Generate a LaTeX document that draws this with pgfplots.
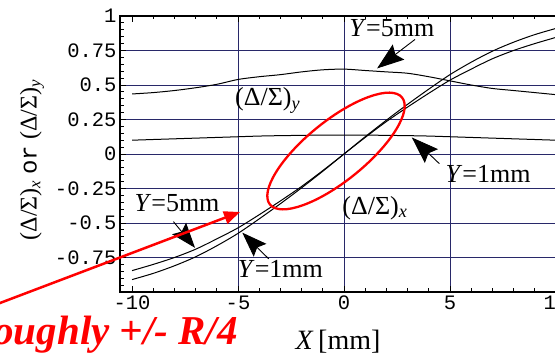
\documentclass[border=0pt]{standalone}
\usepackage{fontspec}
\setmainfont{Liberation Serif}
\newfontfamily\cour{Liberation Mono}
\usepackage{pgfplots}
\usepackage{pgfplotstable}
\pgfplotsset{compat=1.18}
\usetikzlibrary{arrows.meta}
\definecolor{gridnavy}{RGB}{40,40,105}

\pgfplotstableread{
x    ax1    ax5    ay5    ay1
-10  -0.910 -0.845 0.435  0.100
-9   -0.865 -0.800 0.445  0.105
-8   -0.810 -0.750 0.460  0.110
-7   -0.745 -0.690 0.480  0.115
-6   -0.665 -0.615 0.505  0.120
-5   -0.575 -0.535 0.540  0.125
-4   -0.470 -0.440 0.560  0.130
-3   -0.360 -0.340 0.575  0.133
-2   -0.245 -0.235 0.595  0.135
-1   -0.125 -0.120 0.610  0.137
0     0.000  0.000 0.615  0.137
1     0.125  0.120 0.605  0.137
2     0.245  0.235 0.595  0.135
3     0.360  0.340 0.585  0.133
4     0.470  0.440 0.560  0.130
5     0.575  0.535 0.530  0.125
6     0.665  0.615 0.500  0.120
7     0.745  0.690 0.475  0.115
8     0.810  0.750 0.460  0.110
9     0.865  0.800 0.445  0.105
10    0.910  0.845 0.430  0.100
}\datatab

\begin{document}
\begin{tikzpicture}[x=1pt,y=1pt]
\useasboundingbox (0,0) rectangle (555,353);
\clip (0,0) rectangle (555,353);
\begin{axis}[
  at={(120pt,61pt)}, anchor=south west, scale only axis,
  width=448pt, height=276pt,
  xmin=-10.57, xmax=10.57, ymin=-1, ymax=1,
  axis line style={black, line width=1.1pt},
  xtick={-5,0,5}, xticklabels={-5,0,5},
  extra x ticks={-10,10}, extra x tick labels={-10,10},
  ytick={-0.75,-0.5,-0.25,0,0.25,0.5,0.75},
  yticklabels={-0.75,-0.5,-0.25,0,0.25,0.5,0.75},
  extra y ticks={1}, extra y tick labels={1},
  extra tick style={grid=none},
  minor xtick={-10,-9,...,10},
  minor ytick={-1,-0.95,...,1},
  grid=major, major grid style={gridnavy, line width=0.9pt},
  tick pos=both, tick align=inside,
  major tick length=6pt, minor tick length=3.5pt,
  every tick/.style={black, line width=0.8pt},
  tick label style={font=\cour\fontsize{20.5}{20.5}\selectfont},
  clip=true,
]
\addplot[black, line width=1pt, smooth] table[x=x,y=ax1]{\datatab};
\addplot[black, line width=1pt, smooth] table[x=x,y=ax5]{\datatab};
\addplot[black, line width=1pt, smooth] table[x=x,y=ay5]{\datatab};
\addplot[black, line width=1pt, smooth] table[x=x,y=ay1]{\datatab};

\node[font=\fontsize{26}{26}\selectfont] at (axis cs:2.26,0.915) {\textit{Y}=5mm};
\node[font=\fontsize{26}{26}\selectfont] at (axis cs:-3.6,0.39) {(Δ/Σ)\textsubscript{\textit{y}}};
\node[font=\fontsize{26}{26}\selectfont] at (axis cs:6.8,-0.145) {\textit{Y}=1mm};
\node[font=\fontsize{26}{26}\selectfont] at (axis cs:1.46,-0.39) {(Δ/Σ)\textsubscript{\textit{x}}};
\node[font=\fontsize{26}{26}\selectfont] at (axis cs:-7.88,-0.355) {\textit{Y}=5mm};
\node[font=\fontsize{26}{26}\selectfont] at (axis cs:-3.0,-0.83) {\textit{Y}=1mm};

\draw[black, line width=0.9pt, -{Stealth[length=27pt,width=19pt,inset=4pt]}] (axis cs:3.35,0.83) -- (axis cs:1.56,0.62);
\draw[black, line width=0.9pt, -{Stealth[length=27pt,width=19pt,inset=4pt]}] (axis cs:4.5,-0.07) -- (axis cs:3.2,0.12);
\draw[black, line width=0.9pt, -{Stealth[length=25pt,width=18pt,inset=4pt]}] (axis cs:-8.05,-0.49) -- (axis cs:-7.03,-0.68);
\draw[black, line width=0.9pt, -{Stealth[length=25pt,width=18pt,inset=4pt]}] (axis cs:-3.55,-0.76) -- (axis cs:-4.8,-0.57);
\end{axis}

% axis labels
\node[rotate=90, font=\fontsize{24}{24}\selectfont] at (32,193)
  {(Δ/Σ)\textsubscript{\textit{x}}\ {\cour or}\ (Δ/Σ)\textsubscript{\textit{y}}};
\node[anchor=base, font=\fontsize{28}{28}\selectfont] at (338,3) {\textit{X}\,[mm]};

% red annotations
\draw[red, line width=2.3pt, rotate around={39:(336,202)}] (336,202) ellipse (85 and 30);
\draw[red, line width=2.5pt, -{Triangle[length=16pt,width=13pt]}] (-20,42.4) -- (240,141);
\node[anchor=base east, red, font=\bfseries\itshape\fontsize{41}{41}\selectfont, inner sep=0pt] at (238,8) {roughly +/- R/4};
\end{tikzpicture}
\end{document}
